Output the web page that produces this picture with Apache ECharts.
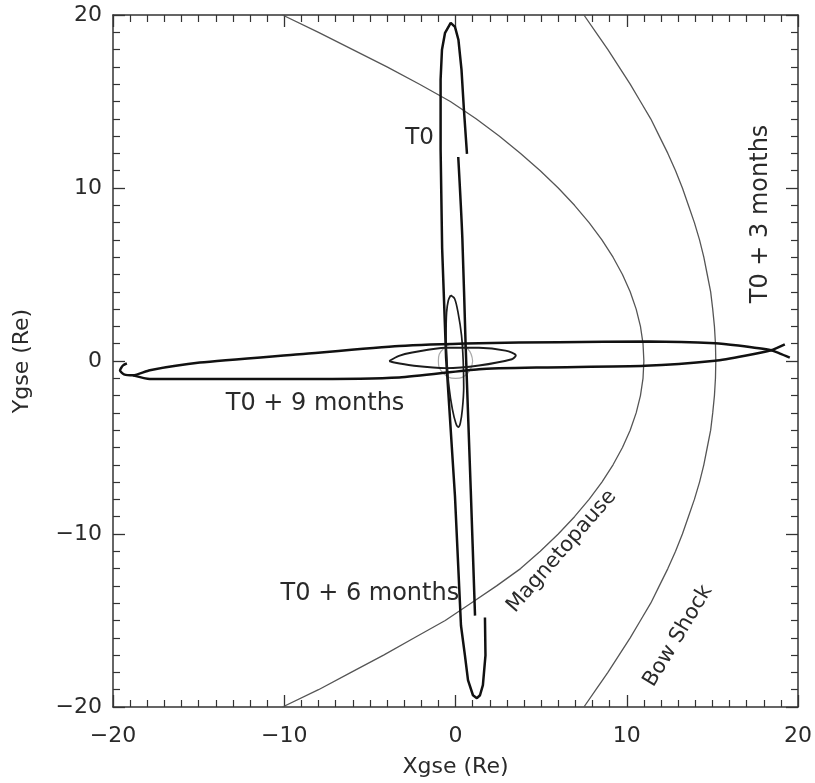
<!DOCTYPE html>
<html>
<head>
<meta charset="utf-8">
<script src="https://cdn.jsdelivr.net/npm/echarts@6/dist/echarts.min.js"></script>
<style>
  html, body { margin: 0; padding: 0; background: #fff; }
  #chart { width: 815px; height: 783px; }
</style>
</head>
<body>
<div id="chart"></div>
<script>
// axis range / ticks (Re)
const axisMin = -20
const axisMax = 20
const tickStep = 10

// model boundaries, [Xgse, Ygse]
const magnetopause = [[-10.1,20],[-8.0,19],[-6.0,18],[-4.0,17],[-2.1,16],[-0.3,15],[1.2,14],[2.55,13],[3.8,12],[4.95,11],[6.0,10],[6.95,9],[7.8,8],[8.55,7],[9.2,6],[9.75,5],[10.2,4],[10.55,3],[10.8,2],[10.95,1],[11.0,0],[10.95,-1],[10.8,-2],[10.55,-3],[10.2,-4],[9.75,-5],[9.2,-6],[8.55,-7],[7.8,-8],[6.95,-9],[6.0,-10],[4.95,-11],[3.8,-12],[2.4,-13],[0.9,-14],[-0.6,-15],[-2.4,-16],[-4.2,-17],[-6.1,-18],[-8.0,-19],[-10.1,-20]]
const bowShock = [[7.5,20],[8.2,19],[8.9,18],[9.55,17],[10.2,16],[10.8,15],[11.4,14],[11.9,13],[12.4,12],[12.85,11],[13.25,10],[13.6,9],[13.95,8],[14.25,7],[14.5,6],[14.7,5],[14.9,4],[15.02,3],[15.12,2],[15.18,1],[15.2,0],[15.18,-1],[15.12,-2],[15.02,-3],[14.9,-4],[14.7,-5],[14.5,-6],[14.25,-7],[13.95,-8],[13.6,-9],[13.25,-10],[12.85,-11],[12.4,-12],[11.9,-13],[11.4,-14],[10.8,-15],[10.2,-16],[9.55,-17],[8.9,-18],[8.2,-19],[7.5,-20]]
const earth = [[1,0],[0.71,0.71],[0,1],[-0.71,0.71],[-1,0],[-0.71,-0.71],[0,-1],[0.71,-0.71],[1,0]]

// orbits: T0 / T0 + 6 months (apogee along +/-Y)
const orbitYLong = [[1.72,-14.83],[1.75,-17.02],[1.60,-18.74],[1.43,-19.32],[1.25,-19.49],[1.02,-19.32],[0.73,-18.45],[0.55,-17.02],[0.32,-15.29],[-0.03,-7.83],[-0.55,0.20],[-0.78,6.51],[-0.87,12.25],[-0.87,16.27],[-0.79,17.99],[-0.61,18.97],[-0.28,19.54],[-0.03,19.31],[0.17,18.57],[0.35,16.84],[0.49,14.55],[0.67,11.97]]
const orbitYSecond = [[0.16,11.79],[0.40,7.09],[0.59,0.95],[0.89,-7.43],[1.14,-14.72]]
const orbitYSmall = [[-0.28,3.8],[-0.05,3.6],[0.15,2.8],[0.35,1.5],[0.45,0],[0.48,-1.5],[0.4,-2.8],[0.28,-3.6],[0.16,-3.82],[0.02,-3.6],[-0.18,-2.8],[-0.38,-1.5],[-0.5,0],[-0.55,1.5],[-0.52,2.8],[-0.42,3.5],[-0.28,3.8]]

// orbits: T0 + 3 months / T0 + 9 months (apogee along +/-X)
const orbitXUpper = [[19.52,0.20],[18.95,0.43],[18.43,0.62],[16.51,0.89],[15.17,1.03],[11.27,1.12],[6.03,1.09],[1.37,1.03],[-3.29,0.87],[-9.11,0.39],[-14.93,-0.09],[-17.85,-0.53],[-18.83,-0.83],[-19.36,-0.77],[-19.59,-0.55],[-19.42,-0.26],[-19.19,-0.14]]
const orbitXLower = [[-18.83,-0.83],[-17.85,-1.04],[-14.93,-1.04],[-9.11,-1.04],[-3.29,-0.95],[1.37,-0.47],[5.25,-0.37],[11.07,-0.28],[15.15,0.01],[16.90,0.30],[18.43,0.62],[19.23,0.96]]
const orbitXSmall = [[-3.87,0.0],[-3.3,0.3],[-2.53,0.49],[-0.57,0.77],[1.37,0.77],[2.92,0.6],[3.52,0.32],[3.29,0.1],[1.37,-0.26],[-0.57,-0.41],[-2.53,-0.26],[-3.58,-0.09],[-3.87,0.0]]

// annotations
const annotText = ['T0', 'T0 + 3 months', 'T0 + 9 months', 'T0 + 6 months', 'Magnetopause', 'Bow Shock']
const annotAt = [[-2.1,12.9],[17.8,8.5],[-8.2,-2.5],[-5.0,-13.45],[6.2,-11.0],[13.0,-15.9]]
const annotTilt = [0, 90, 0, 0, 49, 59]
const annotSize = [23, 24, 24, 24, 21, 21]

const FONT = 'DejaVu Sans'
const AXIS_COLOR = '#333'
const TEXT_COLOR = '#2a2a2a'

function minus(v) {
  return String(v).replace('-', '\u2212')
}

function makeAxis(pos, showLabel, name, isY) {
  return {
    type: 'value',
    position: pos,
    min: axisMin,
    max: axisMax,
    interval: tickStep,
    name: showLabel ? name : '',
    nameLocation: 'middle',
    nameGap: isY ? 80 : 49,
    nameRotate: isY ? 90 : 0,
    nameTextStyle: { fontFamily: FONT, fontSize: 22, color: TEXT_COLOR },
    axisLine: { show: true, onZero: false, lineStyle: { color: AXIS_COLOR, width: 1.5 } },
    axisTick: { show: true, inside: true, length: 12, lineStyle: { color: AXIS_COLOR, width: 1.3 } },
    minorTick: { show: true, splitNumber: 10, length: 7, lineStyle: { color: AXIS_COLOR, width: 1.2 } },
    axisLabel: {
      show: showLabel,
      fontFamily: FONT,
      fontSize: 22,
      color: TEXT_COLOR,
      margin: isY ? 11 : 18,
      formatter: minus
    },
    splitLine: { show: false },
    minorSplitLine: { show: false }
  }
}

function curve(data, color, width, smooth, z) {
  return {
    type: 'line',
    data: data,
    showSymbol: false,
    symbol: 'none',
    smooth: smooth,
    lineStyle: { color: color, width: width },
    z: z,
    silent: true
  }
}

const chart = echarts.init(document.getElementById('chart'))

const labelData = annotText.map((t, i) => ({
  value: annotAt[i],
  label: { formatter: t, rotate: annotTilt[i], fontSize: annotSize[i] }
}))

chart.setOption({
  backgroundColor: '#ffffff',
  animation: false,
  grid: { left: 113, right: 15, top: 15, bottom: 71 },
  xAxis: [
    makeAxis('bottom', true, 'Xgse (Re)', false),
    makeAxis('top', false, '', false)
  ],
  yAxis: [
    makeAxis('left', true, 'Ygse (Re)', true),
    makeAxis('right', false, '', true)
  ],
  series: [
    curve(magnetopause, '#555', 1.3, false, 2),
    curve(bowShock, '#555', 1.3, false, 2),
    curve(earth, '#aaa', 1.2, true, 2),
    curve(orbitYLong, '#111', 2.5, false, 3),
    curve(orbitYSecond, '#111', 2.5, 0.3, 3),
    curve(orbitYSmall, '#1c1c1c', 1.7, 0.3, 3),
    curve(orbitXUpper, '#111', 2.5, 0.2, 3),
    curve(orbitXLower, '#111', 2.5, 0.2, 3),
    curve(orbitXSmall, '#1c1c1c', 1.9, 0.3, 3),
    {
      type: 'scatter',
      data: labelData,
      symbolSize: 1,
      itemStyle: { color: 'rgba(0,0,0,0)', opacity: 1 },
      silent: true,
      z: 5,
      label: {
        show: true,
        position: 'inside',
        align: 'center',
        verticalAlign: 'middle',
        fontFamily: FONT,
        color: TEXT_COLOR,
        textBorderWidth: 0
      }
    }
  ]
})
</script>
</body>
</html>
